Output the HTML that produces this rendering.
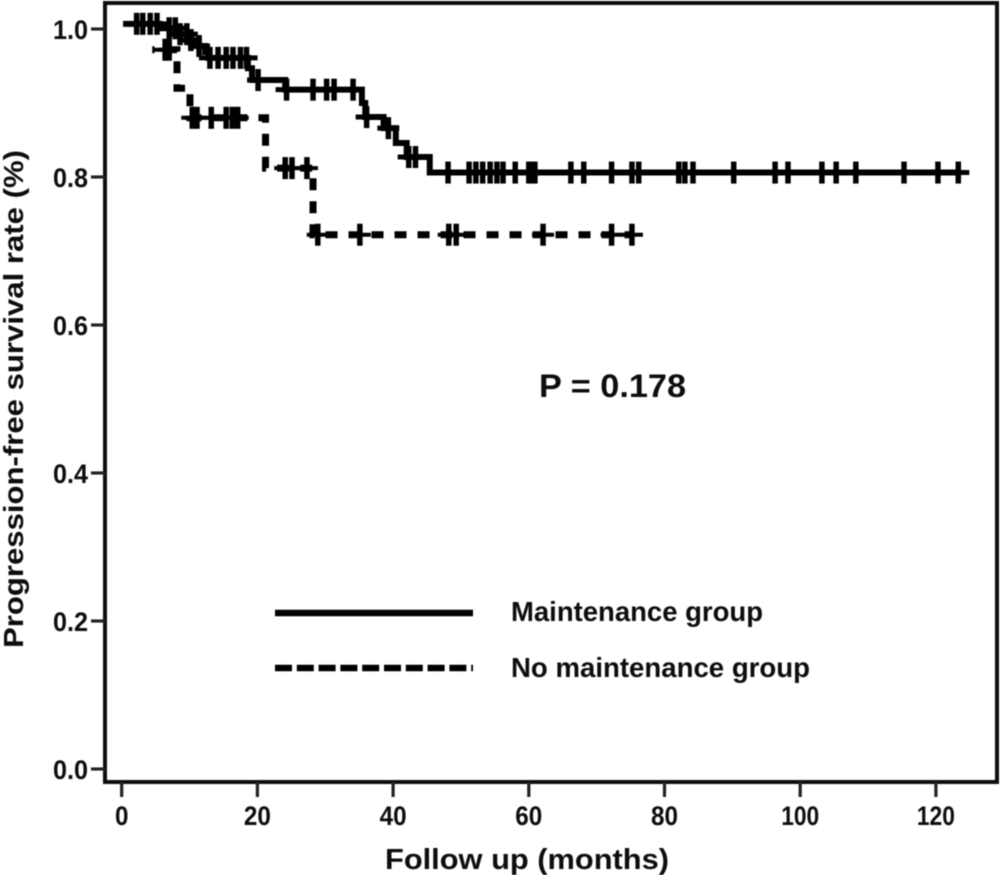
<!DOCTYPE html>
<html>
<head>
<meta charset="utf-8">
<title>Progression-free survival</title>
<style>
html,body{margin:0;padding:0;background:#fff;width:1001px;height:875px;overflow:hidden}
svg{display:block}
text{font-family:"Liberation Sans",sans-serif;font-weight:bold;fill:#0a0a0a}
</style>
</head>
<body>
<svg id="chart" width="1001" height="875" viewBox="0 0 1001 875" xmlns="http://www.w3.org/2000/svg">
  <defs><filter id="soft" x="-5%" y="-5%" width="110%" height="110%"><feGaussianBlur stdDeviation="0.6"/></filter></defs>
  <rect x="0" y="0" width="1001" height="875" fill="#fff"/>
  <g id="plot" filter="url(#soft)">
    <rect x="105" y="3" width="892" height="779" fill="none" stroke="#111" stroke-width="4"/>
    <g id="axes"></g>
    <g id="series"></g>
    <line x1="275" y1="613" x2="473" y2="613" stroke="#000" stroke-width="6.5"/>
    <line x1="275" y1="668" x2="473" y2="668" stroke="#000" stroke-width="6.5" stroke-dasharray="17 4.8"/>
    <text transform="translate(23,648) rotate(-90)" font-size="28" textLength="498" lengthAdjust="spacingAndGlyphs">Progression-free survival rate (%)</text>
    <text x="385" y="869" font-size="29" textLength="284" lengthAdjust="spacingAndGlyphs">Follow up (months)</text>
    <text x="539" y="397" font-size="32" textLength="147" lengthAdjust="spacingAndGlyphs">P = 0.178</text>
    <text x="511" y="621" font-size="28" textLength="252" lengthAdjust="spacingAndGlyphs">Maintenance group</text>
    <text x="511" y="677" font-size="28" textLength="299" lengthAdjust="spacingAndGlyphs">No maintenance group</text>
  </g>
</svg>
<script>
// Chart data
var xTicks = [0, 20, 40, 60, 80, 100, 120];
var yTicks = [0.0, 0.2, 0.4, 0.6, 0.8, 1.0];
var yTickLabels = ["0.0", "0.2", "0.4", "0.6", "0.8", "1.0"];

var maintenanceTimes = [0.2, 5.6, 8.4, 9.8, 10.5, 12.3, 12.8, 18.6, 19.2, 24.1, 35.4, 35.9, 38.6, 40.4, 42.0, 45.4, 123.3];
var maintenanceSurvival = [1.007, 1.001, 0.993, 0.985, 0.977, 0.969, 0.961, 0.947, 0.931, 0.918, 0.900, 0.881, 0.866, 0.846, 0.827, 0.806, 0.806];
var maintenanceCensored = [2.2, 3.1, 4.2, 5.2, 7.0, 7.9, 8.6, 9.6, 10.2, 11.4, 13.0, 14.2, 15.4, 16.4, 17.5, 18.4, 20.1, 24.3, 28.2, 30.2, 31.3, 34.1, 36.1, 39.3, 42.3, 43.3, 48.1, 51.2, 52.2, 53.2, 54.3, 55.3, 56.2, 58.0, 60.0, 60.5, 60.9, 66.2, 68.1, 72.2, 75.2, 76.2, 82.1, 83.0, 84.2, 90.2, 96.3, 98.2, 103.2, 105.3, 108.2, 115.3, 120.3, 123.3];

var noMaintenanceTimes = [4.5, 8.15, 10.06, 21.2, 28.2, 75.2];
var noMaintenanceSurvival = [0.972, 0.920, 0.880, 0.812, 0.722, 0.722];
var noMaintenanceCensored = [6.4, 7.0, 10.4, 11.1, 13.2, 15.4, 16.3, 17.1, 24.1, 25.1, 27.3, 28.9, 35.1, 48.2, 49.3, 62.1, 72.2, 75.2];

// Axis functions
function xScale(t) { return 121.7 + t * 6.785; }
function yScale(v) { return 769 - v * 740; }

var NS = 'http://www.w3.org/2000/svg';
function make(tag, attrs, parent) {
  var el = document.createElementNS(NS, tag);
  for (var k in attrs) el.setAttribute(k, attrs[k]);
  parent.appendChild(el);
  return el;
}
function survivalAt(times, values, t) {
  var v = values[0];
  for (var i = 0; i < times.length; i++) { if (times[i] <= t) v = values[i]; }
  return v;
}
function stepPath(times, values) {
  var d = 'M' + xScale(times[0]) + ' ' + yScale(values[0]);
  for (var i = 1; i < times.length; i++) {
    d += 'H' + xScale(times[i]) + 'V' + yScale(values[i]);
  }
  return d;
}
var axes = document.getElementById('axes');
var seriesGroup = document.getElementById('series');
var tickTextWidth = {1: 13.5, 2: 27, 3: 38};

xTicks.forEach(function (t) {
  var line = make('line', {x1: xScale(t), x2: xScale(t), y1: 782, y2: 797, stroke: '#222', 'stroke-width': 3.2}, axes);
  
  
  var text = String(t);
  var label = make('text', {x: xScale(t), y: 825, 'font-size': 26.5, 'text-anchor': 'middle', textLength: tickTextWidth[text.length], lengthAdjust: 'spacingAndGlyphs'}, axes);
  label.textContent = text;
  
  
});
yTicks.forEach(function (v, i) {
  var line = make('line', {x1: 91, x2: 105, y1: yScale(v), y2: yScale(v), stroke: '#222', 'stroke-width': 3.2}, axes);
  
  
  var label = make('text', {x: 88, y: yScale(v) + 10, 'font-size': 26.5, 'text-anchor': 'end', textLength: 35, lengthAdjust: 'spacingAndGlyphs'}, axes);
  label.textContent = yTickLabels[i];
  
  
});

function drawMarkers(times, values, censored, name, armWidth) {
  censored.forEach(function (t) {
    var x = xScale(t), y = yScale(survivalAt(times, values, t));
    var v = make('path', {d: 'M' + x + ' ' + (y - 11) + 'V' + (y + 11), stroke: '#000', 'stroke-width': 5.5, fill: 'none'}, seriesGroup);
    
    
    var h = make('path', {d: 'M' + (x - 11) + ' ' + y + 'H' + (x + 11), stroke: '#000', 'stroke-width': armWidth, fill: 'none'}, seriesGroup);
    
    
  });
}

var solid = make('path', {d: stepPath(maintenanceTimes, maintenanceSurvival), fill: 'none', stroke: '#000', 'stroke-width': 6}, seriesGroup);


drawMarkers(maintenanceTimes, maintenanceSurvival, maintenanceCensored, 'maintenance-censor-mark', 5);

var dashed = make('path', {d: stepPath(noMaintenanceTimes, noMaintenanceSurvival), fill: 'none', stroke: '#000', 'stroke-width': 7, 'stroke-dasharray': '12 11', 'stroke-dashoffset': 9.7}, seriesGroup);


drawMarkers(noMaintenanceTimes, noMaintenanceSurvival, noMaintenanceCensored, 'no-maintenance-censor-mark', 4);
</script>
</body>
</html>
